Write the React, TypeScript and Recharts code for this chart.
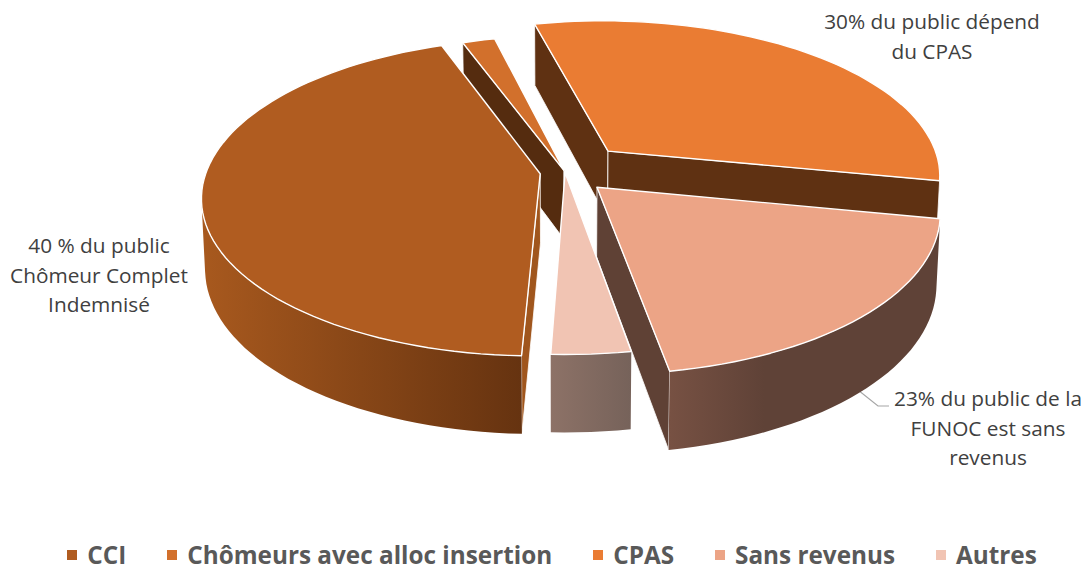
import { Legend, Pie, PieChart } from 'recharts';

// legend order
const categories = ['CCI', 'Chômeurs avec alloc insertion', 'CPAS', 'Sans revenus', 'Autres'];
const shares = [43.8, 1.8, 31.9, 19.2, 3.3];
const topColors = ['#b05c20', '#d2702c', '#ea7c33', '#eca486', '#f1c4b3'];
const radialWallColors = ['#a0561d', '#552c0f', '#5f3112', '#5f4135', '#7d665d'];
const outerWallFrom = ['#a8591e', '#8a4a19', '#5f3112', '#775143', '#8d7267'];
const outerWallTo = ['#663310', '#552c0f', '#5f3112', '#5f4237', '#76625a'];
const outerWallEnd = ['100%', '100%', '100%', '35%', '100%'];
const explode = [0.075, 0.012, 0.19, 0.135, 0.005];

// slices are painted back to front, so the pie starts at the small slice
const drawOrder = [1, 2, 3, 4, 0];
const pieData = drawOrder.map((i) => ({
  name: categories[i],
  value: shares[i],
  fill: topColors[i],
  idx: i,
}));

const W = 1089;
const H = 569;
const CX = 565;
const CY = 172;
const RADIUS = 334;

// fake 3D: a tilted disc seen in perspective
const TILT = 0.464;
const PERSP = 0.146;
const DEPTH = 69;
const DEPTH_PERSP = 0.114;
const BOTTOM_SHRINK = 0.99;

type Pt = [number, number];

const topPoint = (wx: number, wz: number, cx: number, cy: number, r: number): Pt => {
  const k = 1 / (1 - PERSP * wz);
  return [cx + r * wx * k, cy + r * TILT * wz * k];
};

const bottomPoint = (wx: number, wz: number, cx: number, cy: number, r: number): Pt => {
  const [x, y] = topPoint(wx, wz, cx, cy, r);
  return [cx + (x - cx) * BOTTOM_SHRINK, y + DEPTH / (1 - DEPTH_PERSP * wz)];
};

const toPath = (pts: Pt[]) =>
  'M' + pts.map((p) => p[0].toFixed(1) + ' ' + p[1].toFixed(1)).join('L') + 'Z';

const area = (pts: Pt[]) => {
  let s = 0;
  pts.forEach((p, i) => {
    const q = pts[(i + 1) % pts.length];
    s += p[0] * q[1] - q[0] * p[1];
  });
  return s / 2;
};

function Slice3D(props: any) {
  const { cx, cy, outerRadius, startAngle, endAngle, midAngle, payload } = props;
  const i = payload.idx;
  const toRad = Math.PI / 180;
  // recharts angles to clockwise-from-top
  const c0 = 90 - startAngle;
  const c1 = 90 - endAngle;
  const cm = 90 - midAngle;
  const ox = explode[i] * Math.sin(cm * toRad);
  const oz = -explode[i] * Math.cos(cm * toRad);

  const steps = Math.max(2, Math.round((c1 - c0) / 2));
  const world: Pt[] = [];
  for (let s = 0; s <= steps; s++) {
    const c = (c0 + ((c1 - c0) * s) / steps) * toRad;
    world.push([ox + Math.sin(c), oz - Math.cos(c)]);
  }
  const apexT = topPoint(ox, oz, cx, cy, outerRadius);
  const apexB = bottomPoint(ox, oz, cx, cy, outerRadius);
  const arcT = world.map((w) => topPoint(w[0], w[1], cx, cy, outerRadius));
  const arcB = world.map((w) => bottomPoint(w[0], w[1], cx, cy, outerRadius));

  // outer wall: only the stretch that faces the viewer
  let first = -1;
  let last = -1;
  for (let s = 0; s < steps; s++) {
    if (area([arcT[s], arcT[s + 1], arcB[s + 1], arcB[s]]) < 0) {
      if (first < 0) first = s;
      last = s + 1;
    }
  }

  const wallA = [apexT, arcT[0], arcB[0], apexB];
  const wallB = [arcT[steps], apexT, apexB, arcB[steps]];
  const gradId = 'outer-wall-' + i;
  const xs = first >= 0 ? arcT.slice(first, last + 1).map((p) => p[0]) : [0, 1];

  return (
    <g>
      <defs>
        <linearGradient
          id={gradId}
          gradientUnits='userSpaceOnUse'
          x1={Math.min(...xs)}
          x2={Math.max(...xs)}
          y1={0}
          y2={0}
        >
          <stop offset='0%' stopColor={outerWallFrom[i]} />
          <stop offset={outerWallEnd[i]} stopColor={outerWallTo[i]} />
        </linearGradient>
      </defs>
      {area(wallA) < 0 && (
        <path d={toPath(wallA)} fill={radialWallColors[i]} stroke='#ffffff' strokeWidth={0.8} />
      )}
      {area(wallB) < 0 && (
        <path d={toPath(wallB)} fill={radialWallColors[i]} stroke='#ffffff' strokeWidth={0.8} />
      )}
      {first >= 0 && (
        <path
          d={toPath([
            ...arcT.slice(first, last + 1),
            ...arcB.slice(first, last + 1).reverse(),
          ])}
          fill={`url(#${gradId})`}
        />
      )}
      <path
        d={toPath([apexT, ...arcT])}
        fill={topColors[i]}
        stroke='#ffffff'
        strokeWidth={1.4}
        strokeLinejoin='round'
      />
    </g>
  );
}

function LegendRow() {
  return (
    <div
      style={{
        display: 'flex',
        justifyContent: 'center',
        alignItems: 'center',
        gap: 41,
        paddingLeft: 15,
        fontFamily: '"Open Sans", sans-serif',
        fontWeight: 700,
        fontSize: 24.3,
        color: '#595959',
        whiteSpace: 'nowrap',
      }}
    >
      {categories.map((name, i) => (
        <span key={name} style={{ display: 'flex', alignItems: 'center', gap: 10 }}>
          <span style={{ width: 10, height: 10, background: topColors[i] }} />
          {name}
        </span>
      ))}
    </div>
  );
}

const noteStyle = {
  fontFamily: '"Open Sans", sans-serif',
  fontSize: 20.8,
  fill: '#404040',
  textAnchor: 'middle',
} as const;

function Note({ x, y, lines }: { x: number; y: number; lines: string[] }) {
  return (
    <text style={noteStyle}>
      {lines.map((line, i) => (
        <tspan key={line} x={x} y={y + i * 29.5}>
          {line}
        </tspan>
      ))}
    </text>
  );
}

const noteCpas = ['30% du public dépend', 'du CPAS'];
const noteCci = ['40 % du public', 'Chômeur Complet', 'Indemnisé'];
const noteSans = ['23% du public de la', 'FUNOC est sans', 'revenus'];

export default function App() {
  return (
    <div style={{ position: 'absolute', left: 0, top: 0, width: W, height: H, background: '#ffffff' }}>
      <PieChart width={W} height={H} margin={{ top: 0, right: 0, bottom: 0, left: 0 }}>
        <Pie
          data={pieData}
          dataKey='value'
          nameKey='name'
          cx={CX}
          cy={CY}
          innerRadius={0}
          outerRadius={RADIUS}
          startAngle={-249.8}
          endAngle={-609.8}
          stroke='none'
          shape={Slice3D}
          isAnimationActive={false}
        />
        <Note x={932} y={29} lines={noteCpas} />
        <Note x={99} y={253} lines={noteCci} />
        <Note x={988} y={406} lines={noteSans} />
        <polyline points='858,390 878,406 889,406' fill='none' stroke='#a6a6a6' strokeWidth={1.2} />
        <Legend
          content={<LegendRow />}
          wrapperStyle={{ left: 0, top: 538, width: W, height: 31 }}
        />
      </PieChart>
    </div>
  );
}
